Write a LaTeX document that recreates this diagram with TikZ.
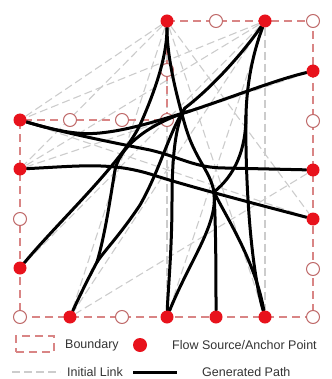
\documentclass[tikz,border=0pt]{standalone}
\usepackage{fontspec}
\setsansfont{Liberation Sans}
\usepackage{tikz}
\usetikzlibrary{backgrounds}
\definecolor{flowred}{HTML}{E8121C}
\definecolor{edge}{HTML}{D98585}
\definecolor{ring}{HTML}{BF6A6A}
\definecolor{link}{HTML}{CCCCCC}

\begin{document}
\begin{tikzpicture}[x=1pt, y=-1pt, font=\sffamily\fontsize{12.5}{14}\selectfont,
      bnd/.style={draw=edge, line width=1.8pt, dash pattern=on 8pt off 5pt},
      lnk/.style={draw=link, line width=1.1pt, dash pattern=on 8pt off 4pt},
      gen/.style={draw=black, line width=3pt, line cap=round},
      src/.style={circle, fill=flowred, minimum size=13pt, inner sep=0pt},
      anc/.style={circle, draw=ring, fill=white, line width=1pt, minimum size=13pt, inner sep=0pt},
      lab/.style={anchor=west, text=black!80, inner sep=0pt}]
    \useasboundingbox (0,0) rectangle (331,379);
    % flow sources
    \node[src] (t1) at (167,21) {};  \node[src] (t2) at (265,21) {};
    \node[src] (r1) at (313,71) {};  \node[src] (r3) at (313,170) {};
    \node[src] (r4) at (313,219) {};
    \node[src] (b1) at (70,317) {};  \node[src] (b3) at (167,317) {};
    \node[src] (b4) at (216,317) {}; \node[src] (b5) at (265,317) {};
    \node[src] (l1) at (20,120) {};  \node[src] (l2) at (20,169) {};
    \node[src] (l4) at (20,268) {};
    \begin{scope}[on background layer]
      % initial links
      \draw[lnk] (t1) -- (l1); \draw[lnk] (t1) -- (l2);
      \draw[lnk] (t1) -- (r4); \draw[lnk] (t1) -- (b5);
      \draw[lnk] (t1) -- (b3); \draw[lnk] (t1) -- (b1);
      \draw[lnk] (t2) -- (l1); \draw[lnk] (t2) -- (l2);
      \draw[lnk] (t2) -- (b1); \draw[lnk] (t2) -- (b5);
      \draw[lnk] (t2) -- (b3); \draw[lnk] (t2) -- (l4);
      \draw[lnk] (r1) -- (l2); \draw[lnk] (r4) -- (l1);
      \draw[lnk] (r3) -- (b1);
      % boundary
      \draw[bnd] (167,21) -- (313,21) -- (313,317) -- (20,317) -- (20,120) -- (167,120) -- cycle;
      \node[anc] (a1) at (216,21) {};  \node[anc] (a2) at (313,21) {};
      \node[anc] (a3) at (313,121) {}; \node[anc] (a4) at (313,269) {};
      \node[anc] (a5) at (313,317) {}; \node[anc] (a6) at (20,317) {};
      \node[anc] (a7) at (122,317) {}; \node[anc] (a8) at (20,219) {};
      \node[anc] (a9) at (70,120) {};  \node[anc] (a10) at (122,120) {};
      \node[anc] (a11) at (167,120) {}; \node[anc] (a12) at (167,70) {};
      % generated paths
      \coordinate (jc) at (214,192);
      \coordinate (je) at (246,115);
      \coordinate (jf) at (185,108);
      \coordinate (jd) at (97,262);
      \coordinate (jg) at (190,111);
      \draw[gen] (t1) .. controls (167,50) and (160,80) .. (140,125)
                      .. controls (120,165) and (60,220) .. (l4);
      \draw[gen] (t1) .. controls (167,50) and (172,80) .. (185,125)
                      .. controls (195,160) and (210,170) .. (jc);
      \draw[gen] (jc) .. controls (216,230) and (216,280) .. (b4);
      \draw[gen] (jc) .. controls (218,225) and (190,260) .. (b3);
      \draw[gen] (jc) .. controls (225,215) and (255,260) .. (b5);
      \draw[gen] (t2) .. controls (256,45) and (247,75) .. (je)
                      .. controls (245,175) and (250,265) .. (b5);
      \draw[gen] (je) .. controls (246,150) and (235,175) .. (jc);
      \draw[gen] (t2) .. controls (245,50) and (215,85) .. (jf);
      \draw[gen] (jf) .. controls (175,125) and (172,160) .. (172,200)
                      .. controls (172,250) and (168,290) .. (b3);
      \draw[gen] (jf) .. controls (170,130) and (160,170) .. (140,205)
                      .. controls (120,235) and (105,250) .. (jd);
      \draw[gen] (b1) .. controls (80,295) and (90,275) .. (jd);
      \draw[gen] (jd) .. controls (105,235) and (110,200) .. (115,170)
                      .. controls (122,140) and (160,120) .. (jg)
                      .. controls (230,98) and (275,80) .. (r1);
      \draw[gen] (l1) .. controls (60,132) and (80,135) .. (100,133)
                      .. controls (130,130) and (160,120) .. (jg);
      \draw[gen] (l1) .. controls (60,132) and (110,142) .. (150,150)
                      .. controls (180,157) and (195,168) .. (225,168) -- (r3);
      \draw[gen] (l2) .. controls (80,166) and (110,162) .. (150,174)
                      .. controls (190,187) and (260,205) .. (r4);
    \end{scope}
    % legend
    \node[bnd, minimum width=38pt, minimum height=16pt, anchor=west] (kb) at (15,344) {};
    \node[lab] (tb) at (65,345) {Boundary};
    \node[src, minimum size=14pt] (kd) at (140,345) {};
    \node[lab] (td) at (172,345) {Flow Source/Anchor Point};
    \coordinate (kl1) at (12,372); \coordinate (kl2) at (60,372);
    \draw[lnk] (kl1) -- (kl2);
    \node[lab] (tl) at (67,372) {Initial Link};
    \coordinate (kg1) at (133,372); \coordinate (kg2) at (177,372);
    \draw[gen, line cap=butt] (kg1) -- (kg2);
    \node[lab] (tg) at (202,372) {Generated Path};
  \end{tikzpicture}
\end{document}
